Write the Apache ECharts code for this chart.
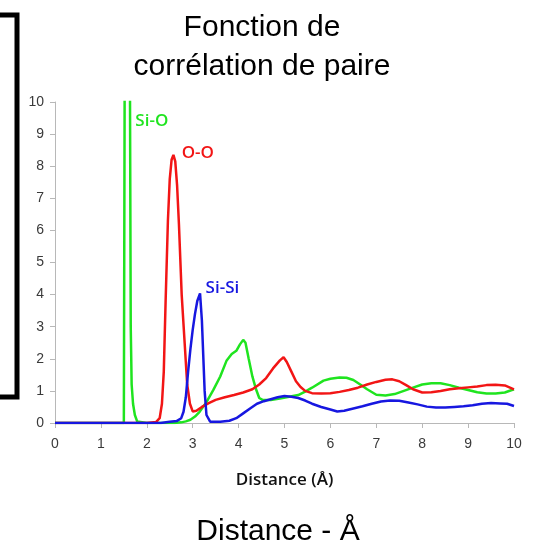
<!DOCTYPE html>
<html>
<head>
<meta charset="utf-8">
<script src="https://cdn.jsdelivr.net/npm/echarts@6/dist/echarts.min.js"></script>
<style>
html,body{margin:0;padding:0;background:#fff;}
#chart{width:535px;height:552px;}
</style>
</head>
<body>
<div id="chart"></div>
<script>
// Si-O pair correlation (green)
var siO_x = [0, 1.50, 1.52, 1.58, 1.63, 1.65, 1.67, 1.70, 1.74, 1.79, 1.83, 2.0, 2.6, 2.75, 2.85, 2.95, 3.05, 3.15, 3.3, 3.45, 3.6, 3.74, 3.85, 3.95, 4.03, 4.10, 4.15, 4.22, 4.30, 4.38, 4.45, 4.52, 4.7, 4.9, 5.1, 5.3, 5.45, 5.6, 5.85, 6.0, 6.2, 6.35, 6.5, 6.65, 6.8, 7.0, 7.2, 7.4, 7.6, 7.8, 8.0, 8.2, 8.4, 8.6, 8.8, 9.0, 9.2, 9.4, 9.6, 9.8, 10.0];
var siO_y = [0, 0, 12, 30, 12, 3, 1.2, 0.6, 0.25, 0.05, 0, 0, 0, 0.02, 0.05, 0.1, 0.2, 0.35, 0.65, 1.03, 1.45, 1.95, 2.15, 2.25, 2.45, 2.59, 2.5, 2.0, 1.45, 1.05, 0.78, 0.72, 0.72, 0.76, 0.82, 0.87, 0.98, 1.1, 1.32, 1.38, 1.42, 1.41, 1.34, 1.2, 1.05, 0.88, 0.86, 0.9, 1.0, 1.1, 1.2, 1.24, 1.24, 1.18, 1.1, 1.03, 0.96, 0.92, 0.92, 0.95, 1.05];
// O-O pair correlation (red)
var oo_x = [0, 2.0, 2.2, 2.28, 2.33, 2.37, 2.41, 2.46, 2.50, 2.54, 2.58, 2.62, 2.66, 2.70, 2.76, 2.82, 2.88, 2.94, 3.0, 3.08, 3.2, 3.35, 3.5, 3.7, 3.9, 4.1, 4.3, 4.45, 4.6, 4.75, 4.9, 4.98, 5.05, 5.15, 5.25, 5.35, 5.45, 5.6, 5.8, 6.0, 6.2, 6.4, 6.6, 6.8, 7.0, 7.2, 7.35, 7.5, 7.65, 7.8, 8.0, 8.2, 8.4, 8.6, 8.8, 9.0, 9.2, 9.4, 9.6, 9.8, 10.0];
var oo_y = [0, 0, 0.03, 0.15, 0.6, 1.6, 3.8, 6.3, 7.6, 8.2, 8.35, 8.15, 7.4, 6.2, 4.0, 2.6, 1.2, 0.6, 0.36, 0.38, 0.5, 0.62, 0.72, 0.8, 0.87, 0.95, 1.05, 1.2, 1.4, 1.7, 1.95, 2.05, 1.9, 1.6, 1.3, 1.12, 1.0, 0.93, 0.92, 0.93, 0.97, 1.03, 1.1, 1.2, 1.28, 1.35, 1.36, 1.3, 1.18, 1.05, 0.95, 0.96, 1.0, 1.05, 1.08, 1.11, 1.14, 1.18, 1.19, 1.17, 1.05];
// Si-Si pair correlation (blue)
var sisi_x = [0, 2.3, 2.5, 2.65, 2.75, 2.80, 2.85, 2.90, 2.95, 3.0, 3.05, 3.10, 3.16, 3.20, 3.23, 3.26, 3.30, 3.38, 3.6, 3.8, 3.95, 4.1, 4.25, 4.4, 4.55, 4.7, 4.85, 5.0, 5.15, 5.3, 5.45, 5.6, 5.8, 6.0, 6.15, 6.3, 6.5, 6.7, 6.9, 7.1, 7.3, 7.5, 7.7, 7.9, 8.1, 8.3, 8.5, 8.7, 8.9, 9.1, 9.3, 9.5, 9.7, 9.85, 10.0];
var sisi_y = [0, 0, 0.04, 0.06, 0.15, 0.35, 0.8, 1.6, 2.3, 2.9, 3.4, 3.8, 4.04, 3.2, 2.1, 1.0, 0.25, 0.04, 0.04, 0.07, 0.15, 0.3, 0.45, 0.6, 0.68, 0.74, 0.8, 0.84, 0.82, 0.78, 0.7, 0.6, 0.5, 0.42, 0.36, 0.38, 0.45, 0.52, 0.6, 0.67, 0.7, 0.69, 0.64, 0.58, 0.51, 0.48, 0.48, 0.5, 0.52, 0.55, 0.6, 0.62, 0.61, 0.6, 0.53];

var seriesNames = ['Si-O', 'O-O', 'Si-Si'];
var seriesColors = ['#1fe41f', '#f21515', '#1717e0'];
var labelCoords = [[1.74, 9.41], [2.75, 8.41], [3.27, 4.21]];

function pairs(xs, ys) {
  return xs.map(function (x, i) { return [x, ys[i]]; });
}
var dataSets = [pairs(siO_x, siO_y), pairs(oo_x, oo_y), pairs(sisi_x, sisi_y)];

var axisGray = '#b8b8b8';
var tickText = {color: '#3a3a3a', fontSize: 14, fontFamily: 'Liberation Sans'};

var chart = echarts.init(document.getElementById('chart'), null, {renderer: 'canvas'});
chart.setOption({
  animation: false,
  backgroundColor: '#ffffff',
  title: {
    text: 'Fonction de\ncorrélation de paire',
    left: 257,
    top: 3,
    textAlign: 'center',
    textStyle: {fontSize: 30, lineHeight: 39, fontWeight: 'normal', color: '#000', fontFamily: 'Liberation Sans'}
  },
  grid: {left: 55, right: 21, top: 102, bottom: 129, containLabel: false},
  xAxis: {
    type: 'value', min: 0, max: 10, interval: 1,
    name: 'Distance (Å)', nameLocation: 'middle', nameGap: 49,
    nameTextStyle: {fontFamily: 'Open Sans', fontWeight: 600, fontSize: 17, color: '#111'},
    axisLine: {show: true, lineStyle: {color: axisGray, width: 1}},
    axisTick: {show: true, length: 5, lineStyle: {color: axisGray}},
    axisLabel: Object.assign({margin: 14}, tickText),
    splitLine: {show: false}
  },
  yAxis: {
    type: 'value', min: 0, max: 10, interval: 1,
    axisLine: {show: true, lineStyle: {color: axisGray, width: 1}},
    axisTick: {show: true, length: 5, lineStyle: {color: axisGray}},
    axisLabel: Object.assign({margin: 11}, tickText),
    splitLine: {show: false}
  },
  series: dataSets.map(function (d, i) {
    return {
      type: 'line', name: seriesNames[i], data: d,
      showSymbol: false, symbol: 'none', clip: true,
      lineStyle: {color: seriesColors[i], width: 2.5},
      itemStyle: {color: seriesColors[i]},
      markPoint: {
        symbol: 'circle', symbolSize: 1,
        itemStyle: {color: 'rgba(0,0,0,0)'},
        label: {
          show: true, position: 'right', distance: 0,
          formatter: '{b}', color: seriesColors[i],
          fontFamily: 'Open Sans', fontWeight: 600, fontSize: 17
        },
        data: [{name: seriesNames[i], coord: labelCoords[i]}]
      }
    };
  }),
  graphic: [
    {
      type: 'polyline',
      shape: {points: [[0, 15], [17, 15], [17, 397], [0, 397]]},
      style: {stroke: '#000', lineWidth: 5, fill: null}
    },
    {
      type: 'text', x: 278, y: 532,
      style: {text: 'Distance - Å', font: '30px "Liberation Sans"', fill: '#000', textAlign: 'center', textVerticalAlign: 'middle'}
    }
  ]
});
</script>
</body>
</html>
